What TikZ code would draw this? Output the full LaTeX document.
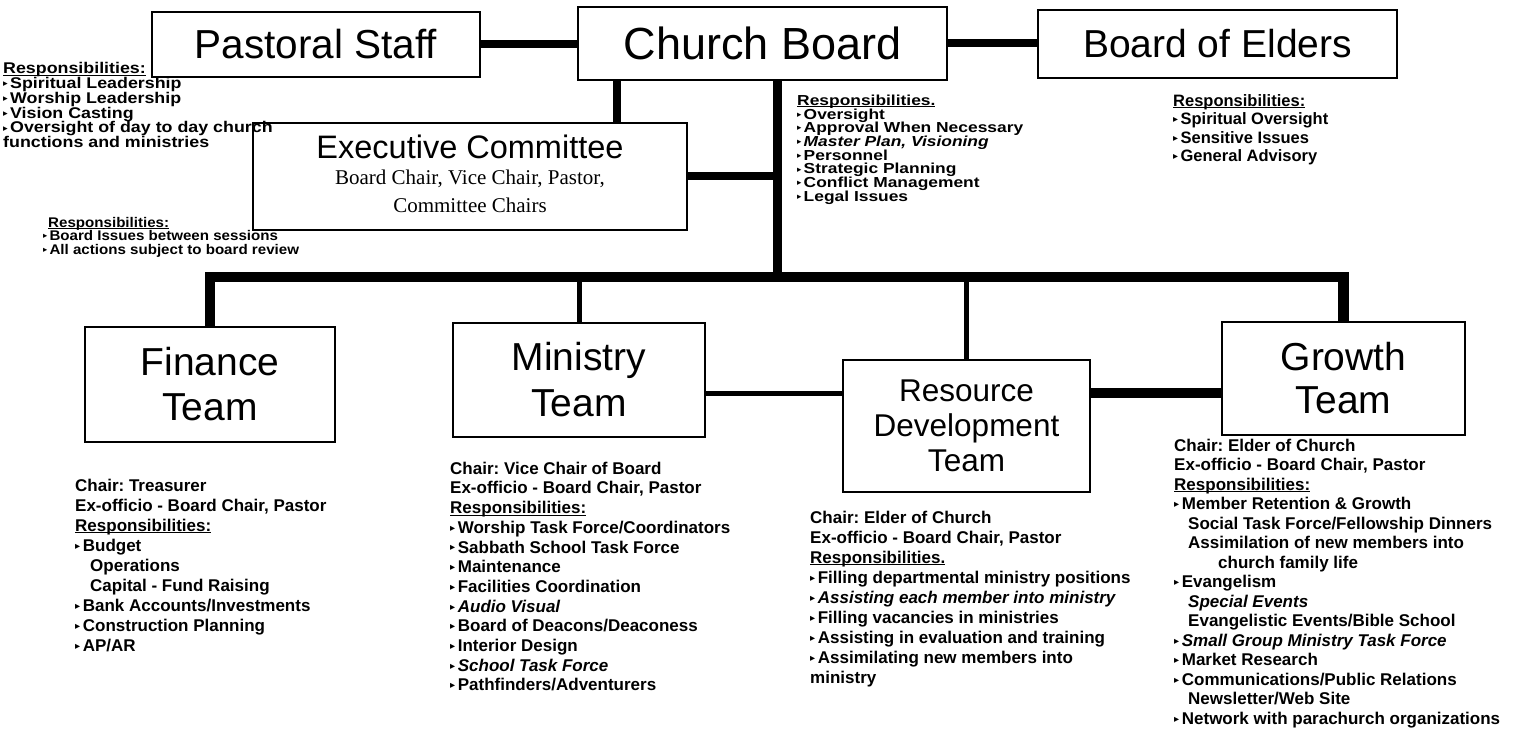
\documentclass[tikz,border=0pt]{standalone}
\usepackage{fontspec}
\usepackage{graphicx}
\setmainfont{Liberation Sans}
\newfontfamily\serifface{Liberation Serif}
\newfontfamily\symface{DejaVu Sans}
\newfontfamily\wideA{Liberation Sans}[FakeStretch=1.2]
\newfontfamily\wideB{Liberation Sans}[FakeStretch=1.15]
\newfontfamily\wideC{Liberation Sans}[FakeStretch=1.08]
\lineskiplimit=-100pt
\frenchspacing
% small triangular bullet
\newcommand{\bu}{\makebox[0.45em][l]{\raisebox{0.12em}{\scalebox{0.6}{\symface ▸}}}}
% underline that sits just under the baseline
\newcommand{\resp}[1]{\setbox0\hbox{#1}\rlap{\rule[-0.13em]{\wd0}{0.07em}}\box0}

\begin{document}
\begin{tikzpicture}[x=1pt,y=-1pt,
  box/.style={draw, line width=2.5pt, inner sep=0pt, align=center},
  note/.style={anchor=north west, inner sep=0pt, align=left},
  link/.style={line width=8pt},
  trunk/.style={line width=9pt},
  thinlink/.style={line width=5pt},
  buslink/.style={line width=10.5pt, line join=miter},
]
\useasboundingbox (0,0) rectangle (1517,735);

% ---------- top row ----------
\node[box, minimum width=328pt, minimum height=65pt,
      font=\fontsize{40.5}{40}\selectfont] (pastoral) at (316,44.5) {Pastoral Staff};
\node[box, minimum width=369pt, minimum height=73pt,
      font=\fontsize{45}{45}\selectfont] (cb) at (762.5,43.5) {Church Board};
\node[box, minimum width=359pt, minimum height=68pt,
      font=\fontsize{39}{39}\selectfont] (elders) at (1217.5,44) {Board of Elders};

% ---------- executive committee ----------
\node[box, minimum width=434pt, minimum height=107pt] (exec) at (470,176.5) {};
\node[inner sep=0pt, font=\fontsize{32.5}{32}\selectfont] (execname) at (470,147) {Executive Committee};
\node[inner sep=0pt, align=center, anchor=north,
      font=\serifface\fontsize{21}{28.5}\selectfont] (execmembers) at (470,169.5)
      {Board Chair, Vice Chair, Pastor,\\ Committee Chairs};

% ---------- teams ----------
\node[box, minimum width=250pt, minimum height=115pt,
      font=\fontsize{39}{45}\selectfont] (finance) at (210,384.5) {Finance\\ Team};
\node[box, minimum width=252pt, minimum height=114pt,
      font=\fontsize{39}{46}\selectfont] (ministry) at (579,380) {Ministry\\ Team};
\node[box, minimum width=247pt, minimum height=132pt,
      font=\fontsize{31.5}{35}\selectfont] (resource) at (966.5,426) {Resource\\ Development\\ Team};
\node[box, minimum width=243pt, minimum height=113pt,
      font=\fontsize{39}{43}\selectfont] (growth) at (1343.5,378.5) {Growth\\ Team};

% ---------- connectors ----------
\coordinate (tk) at (777,277);
\coordinate (ce) at (617,0);
\coordinate (mr) at (0,393);
\draw[link] (pastoral.east) -- (cb.west |- pastoral.east);
\draw[link] (cb.east) -- (elders.west |- cb.east);
\draw[link] (cb.south -| ce) -- (exec.north -| ce);
\draw[trunk] (cb.south -| tk) -- (tk);
\draw[link] (exec.east) -- (exec.east -| tk);
\draw[buslink] (finance.north) |- (growth.north |- tk) -- (growth.north);
\draw[thinlink] (ministry.north) -- (ministry.north |- tk);
\draw[thinlink] (resource.north) -- (resource.north |- tk);
\draw[thinlink] (ministry.east |- mr) -- (resource.west |- mr);
\draw[buslink] (resource.east |- mr) -- (growth.west |- mr);

% ---------- responsibilities ----------
\node[note, font=\wideB\bfseries\fontsize{15.5}{14.8}\selectfont] (pastresp) at (3,62.3)
  {\resp{Responsibilities:}\\
   \bu Spiritual Leadership\\
   \bu Worship Leadership\\
   \bu Vision Casting\\
   \bu Oversight of day to day church\\
   functions and ministries};

\node[note, font=\wideC\bfseries\fontsize{14}{13.5}\selectfont] (execresp) at (43,216.8)
  {\hspace*{5pt}\resp{Responsibilities:}\\
   \bu Board Issues between sessions\\
   \bu All actions subject to board review};

\node[note, font=\wideA\bfseries\fontsize{14.5}{13.7}\selectfont] (cbresp) at (797,94.6)
  {\resp{Responsibilities.}\\
   \bu Oversight\\
   \bu Approval When Necessary\\
   \bu\textit{Master Plan, Visioning}\\
   \bu Personnel\\
   \bu Strategic Planning\\
   \bu Conflict Management\\
   \bu Legal Issues};

\node[note, font=\bfseries\fontsize{16.5}{18.5}\selectfont] (elderresp) at (1173,93.9)
  {\resp{Responsibilities:}\\
   \bu Spiritual Oversight\\
   \bu Sensitive Issues\\
   \bu General Advisory};

\node[note, font=\bfseries\fontsize{17}{20}\selectfont] (finresp) at (75,478.7)
  {Chair: Treasurer\\
   Ex-officio - Board Chair, Pastor\\
   \resp{Responsibilities:}\\
   \bu Budget\\
   \hspace*{15pt}Operations\\
   \hspace*{15pt}Capital - Fund Raising\\
   \bu Bank Accounts/Investments\\
   \bu Construction Planning\\
   \bu AP/AR};

\node[note, font=\bfseries\fontsize{17}{19.7}\selectfont] (minresp) at (450,461.7)
  {Chair: Vice Chair of Board\\
   Ex-officio - Board Chair, Pastor\\
   \resp{Responsibilities:}\\
   \bu Worship Task Force/Coordinators\\
   \bu Sabbath School Task Force\\
   \bu Maintenance\\
   \bu Facilities Coordination\\
   \bu\textit{Audio Visual}\\
   \bu Board of Deacons/Deaconess\\
   \bu Interior Design\\
   \bu\textit{School Task Force}\\
   \bu Pathfinders/Adventurers};

\node[note, font=\bfseries\fontsize{17}{20}\selectfont] (resresp) at (810,510.7)
  {Chair: Elder of Church\\
   Ex-officio - Board Chair, Pastor\\
   \resp{Responsibilities.}\\
   \bu Filling departmental ministry positions\\
   \bu\textit{Assisting each member into ministry}\\
   \bu Filling vacancies in ministries\\
   \bu Assisting in evaluation and training\\
   \bu Assimilating new members into\\
   ministry};

\node[note, font=\bfseries\fontsize{17}{19.5}\selectfont] (growresp) at (1174,438.7)
  {Chair: Elder of Church\\
   Ex-officio - Board Chair, Pastor\\
   \resp{Responsibilities:}\\
   \bu Member Retention \& Growth\\
   \hspace*{14pt}Social Task Force/Fellowship Dinners\\
   \hspace*{14pt}Assimilation of new members into\\
   \hspace*{44pt}church family life\\
   \bu Evangelism\\
   \hspace*{14pt}\textit{Special Events}\\
   \hspace*{14pt}Evangelistic Events/Bible School\\
   \bu\textit{Small Group Ministry Task Force}\\
   \bu Market Research\\
   \bu Communications/Public Relations\\
   \hspace*{14pt}Newsletter/Web Site\\
   \bu Network with parachurch organizations};
\end{tikzpicture}
\end{document}
